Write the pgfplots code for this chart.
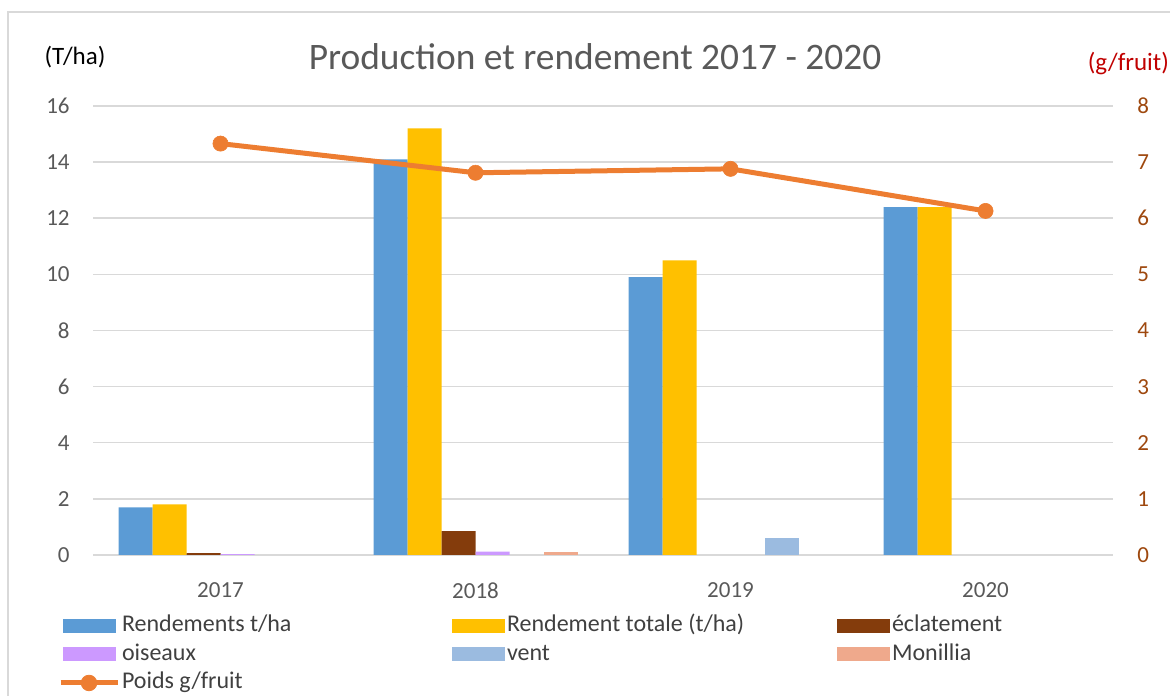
\documentclass[border=0pt]{standalone}
\usepackage{fontspec}
\setmainfont{Carlito}
\usepackage{pgfplots}
\pgfplotsset{compat=1.18}
\definecolor{cBlue}{HTML}{5B9BD5}
\definecolor{cYel}{HTML}{FFC000}
\definecolor{cEcl}{HTML}{843C0C}
\definecolor{cOis}{HTML}{CC99FF}
\definecolor{cVent}{HTML}{9BBBE0}
\definecolor{cMon}{HTML}{EFA98C}
\definecolor{cLine}{HTML}{ED7D31}
\definecolor{cText}{HTML}{595959}
\definecolor{cLeg}{HTML}{404040}
\definecolor{cGrid}{HTML}{D9D9D9}
\definecolor{cRight}{HTML}{9E480E}
\definecolor{cRed}{HTML}{C00000}
\pgfplotsset{
  barleg/.style={legend image code/.code={\fill[##1,draw=none] (0pt,-3.5pt) rectangle (26.5pt,3.5pt);}},
  lineleg/.style={legend image code/.code={\draw[color=cLine, line width=2.5pt] (-1pt,0pt) -- (27.5pt,0pt); \fill[cLine] (13.25pt,0pt) circle (3.9pt);}},
}
\begin{document}
\begin{tikzpicture}
\useasboundingbox (0,0) rectangle (585pt,347.5pt);
\draw[color=cGrid, line width=0.75pt] (4pt,-2pt) -- (4pt,341.5pt) -- (590pt,341.5pt);
\node[font=\fontsize{18.7}{22}\selectfont, text=cText] at (297.5pt,319pt) {Production et rendement 2017 - 2020};
\node[font=\fontsize{12.5}{14}\selectfont, text=black] at (37.5pt,319pt) {(T/ha)};
\node[font=\fontsize{12.5}{14}\selectfont, text=cRed, anchor=east] at (588pt,315.5pt) {(g/fruit)};
\begin{axis}[
  at={(46.5pt,70pt)}, anchor=south west,
  scale only axis, width=510pt, height=224.5pt,
  xmin=-0.5, xmax=3.5, ymin=0, ymax=16,
  ytick={0,2,...,16},
  xtick={0,1,2,3}, xticklabels={2017,2018,2019,2020},
  ybar=0pt, bar width=17pt,
  axis line style={draw=none}, tick style={draw=none},
  ymajorgrids, grid style={color=cGrid, line width=0.75pt},
  /pgf/number format/assume math mode=true,
  ticklabel style={font=\fontsize{11.5}{13}\selectfont, text=cText},
  yticklabel style={inner sep=0pt, xshift=-11.5pt},
  xticklabel style={inner sep=0pt, yshift=-9.5pt},
  legend columns=3, legend cell align=left,
  legend style={at={(-0.0343,-0.1263)}, anchor=north west, draw=none, fill=none,
    inner sep=0pt, outer sep=0pt, column sep=0pt, row sep=0pt,
    font=\fontsize{12}{14}\selectfont, text=cLeg,
    nodes={text width=164pt, inner xsep=1pt, inner ysep=1.5pt, text height=8.5pt, text depth=2.75pt, align=flush left}},
]
\addplot[fill=cBlue, draw=none, barleg] coordinates {(0,1.7) (1,14.1) (2,9.9) (3,12.4)};
\addplot[fill=cYel, draw=none, barleg] coordinates {(0,1.8) (1,15.2) (2,10.5) (3,12.4)};
\addplot[fill=cEcl, draw=none, barleg] coordinates {(0,0.07) (1,0.85)};
\addplot[fill=cOis, draw=none, barleg] coordinates {(0,0.03) (1,0.12)};
\addplot[fill=cVent, draw=none, barleg] coordinates {(2,0.6)};
\addplot[fill=cMon, draw=none, barleg] coordinates {(1,0.12)};
\addlegendimage{lineleg}
\legend{Rendements t/ha, Rendement totale (t/ha), éclatement, oiseaux, vent, Monillia, Poids g/fruit}
\end{axis}
\begin{axis}[
  at={(46.5pt,70pt)}, anchor=south west,
  scale only axis, width=510pt, height=224.5pt,
  xmin=-0.5, xmax=3.5, ymin=0, ymax=8,
  ytick={0,1,...,8},
  axis y line*=right, axis x line=none,
  axis line style={draw=none}, tick style={draw=none},
  /pgf/number format/assume math mode=true,
  yticklabel style={font=\fontsize{11.5}{13}\selectfont, text=cRight, inner sep=0pt, xshift=12pt, anchor=west},
]
\addplot[color=cLine, line width=2.5pt, mark=*, mark size=3.8pt, mark options={line width=0.3pt}] coordinates {(0,7.33) (1,6.81) (2,6.88) (3,6.13)};
\end{axis}
\end{tikzpicture}
\end{document}
